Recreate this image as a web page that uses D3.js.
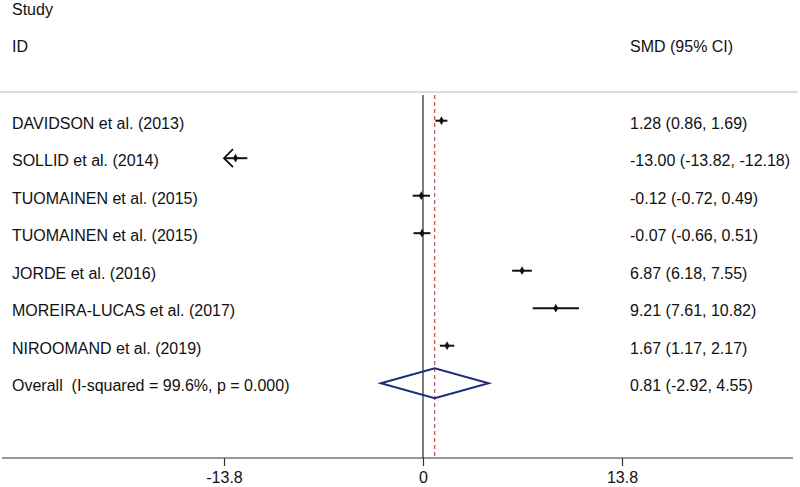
<!DOCTYPE html>
<html>
<head>
<meta charset="utf-8">
<script src="https://cdn.jsdelivr.net/npm/d3@7"></script>
<style>
  body { margin: 0; background: #fff; }
  text { font-family: "Liberation Sans", Arial, sans-serif; font-size: 16px; fill: #111; white-space: pre; }
</style>
</head>
<body>
<svg id="forest" width="800" height="487"></svg>
<script>
"use strict";

// donnees
var studies = ["DAVIDSON et al. (2013)", "SOLLID et al. (2014)", "TUOMAINEN et al. (2015)",
  "TUOMAINEN et al. (2015)", "JORDE et al. (2016)", "MOREIRA-LUCAS et al. (2017)", "NIROOMAND et al. (2019)"]
var smd = [1.28, -13.00, -0.12, -0.07, 6.87, 9.21, 1.67]
var ciLow = [0.86, -13.82, -0.72, -0.66, 6.18, 7.61, 1.17]
var ciHigh = [1.69, -12.18, 0.49, 0.51, 7.55, 10.82, 2.17]
var overallLabel = "Overall  (I-squared = 99.6%, p = 0.000)"
var overall = [0.81, -2.92, 4.55]
var ticks = [-13.8, 0, 13.8]

var svg = d3.select("#forest")

var x = d3.scaleLinear().domain([-13.8, 13.8]).range([224, 622])
var y = d3.scaleLinear().domain([0, 7]).range([120.7, 383.2])
var axisY = 458
var topY = 95

// tiret simple plutot que le signe moins unicode
var locale = d3.formatLocale({ decimal: ".", thousands: ",", grouping: [3], currency: ["", ""], minus: "-" })
var fmt = locale.format(".2f")
var fmtTick = locale.format(".1f")

// en-tetes
svg.append("text").attr("x", 12).attr("y", 15).text("Study")
svg.append("text").attr("x", 12).attr("y", 52).text("ID")
svg.append("text").attr("x", 630).attr("y", 52).text("SMD (95% CI)")

svg.append("line")
  .attr("x1", 0).attr("x2", 798).attr("y1", 92).attr("y2", 92)
  .attr("stroke", "#bbb").attr("stroke-width", 1)

// ligne du zero et ligne de l'effet global
svg.append("line")
  .attr("x1", x(0)).attr("x2", x(0)).attr("y1", topY).attr("y2", axisY)
  .attr("stroke", "#333").attr("stroke-width", 1.3)

svg.append("line")
  .attr("x1", x(overall[0])).attr("x2", x(overall[0])).attr("y1", topY).attr("y2", axisY)
  .attr("stroke", "#c0504d").attr("stroke-width", 1.2).attr("stroke-dasharray", "4,3")

// axe
var axis = d3.axisBottom(x).tickValues(ticks).tickSize(8).tickSizeOuter(0)
  .tickFormat(d => d === 0 ? "0" : fmtTick(d))
var gAxis = svg.append("g").attr("transform", "translate(0," + axisY + ")").call(axis)
gAxis.select(".domain").remove()
gAxis.selectAll(".tick line").attr("stroke", "#333").attr("stroke-width", 1.2)
gAxis.selectAll(".tick text")
  .attr("y", 25).attr("dy", null)
  .style("font-family", "Liberation Sans, Arial, sans-serif").style("font-size", "16px").attr("fill", "#111")
svg.append("line")
  .attr("x1", 2).attr("x2", 793).attr("y1", axisY).attr("y2", axisY)
  .attr("stroke", "#333").attr("stroke-width", 1.2)

// etudes
var xMin = x.domain()[0]
var rows = svg.append("g").selectAll("g")
  .data(studies.map((s, i) => ({ name: s, est: smd[i], lo: ciLow[i], hi: ciHigh[i], i: i })))
  .enter().append("g")

rows.append("text")
  .attr("x", 12).attr("y", d => y(d.i) + 8).text(d => d.name)

rows.append("text")
  .attr("x", 630).attr("y", d => y(d.i) + 8)
  .text(d => fmt(d.est) + " (" + fmt(d.lo) + ", " + fmt(d.hi) + ")")

rows.append("line")
  .attr("x1", d => x(Math.max(d.lo, xMin))).attr("x2", d => x(d.hi))
  .attr("y1", d => y(d.i)).attr("y2", d => y(d.i))
  .attr("stroke", "#111").attr("stroke-width", 2)

// fleche quand l'IC depasse l'axe
rows.filter(d => d.lo < xMin).append("path")
  .attr("d", d => {
    var x0 = x(xMin), y0 = y(d.i)
    return "M" + (x0 + 9) + "," + (y0 - 9) + "L" + x0 + "," + y0 + "L" + (x0 + 9) + "," + (y0 + 9)
  })
  .attr("fill", "none").attr("stroke", "#111").attr("stroke-width", 1.8)

rows.append("path")
  .attr("d", d3.symbol().type(d3.symbolDiamond).size(22))
  .attr("transform", d => "translate(" + x(d.est) + "," + y(d.i) + ")")
  .attr("fill", "#111")

// effet global
var yo = y(studies.length)
svg.append("text").attr("x", 12).attr("y", yo + 8).text(overallLabel)
svg.append("text").attr("x", 630).attr("y", yo + 8)
  .text(fmt(overall[0]) + " (" + fmt(overall[1]) + ", " + fmt(overall[2]) + ")")
svg.append("path")
  .attr("d", "M" + x(overall[1]) + "," + yo + "L" + x(overall[0]) + "," + (yo - 15) +
    "L" + x(overall[2]) + "," + yo + "L" + x(overall[0]) + "," + (yo + 15) + "Z")
  .attr("fill", "none").attr("stroke", "#1f2d7a").attr("stroke-width", 2)
</script>
</body>
</html>
